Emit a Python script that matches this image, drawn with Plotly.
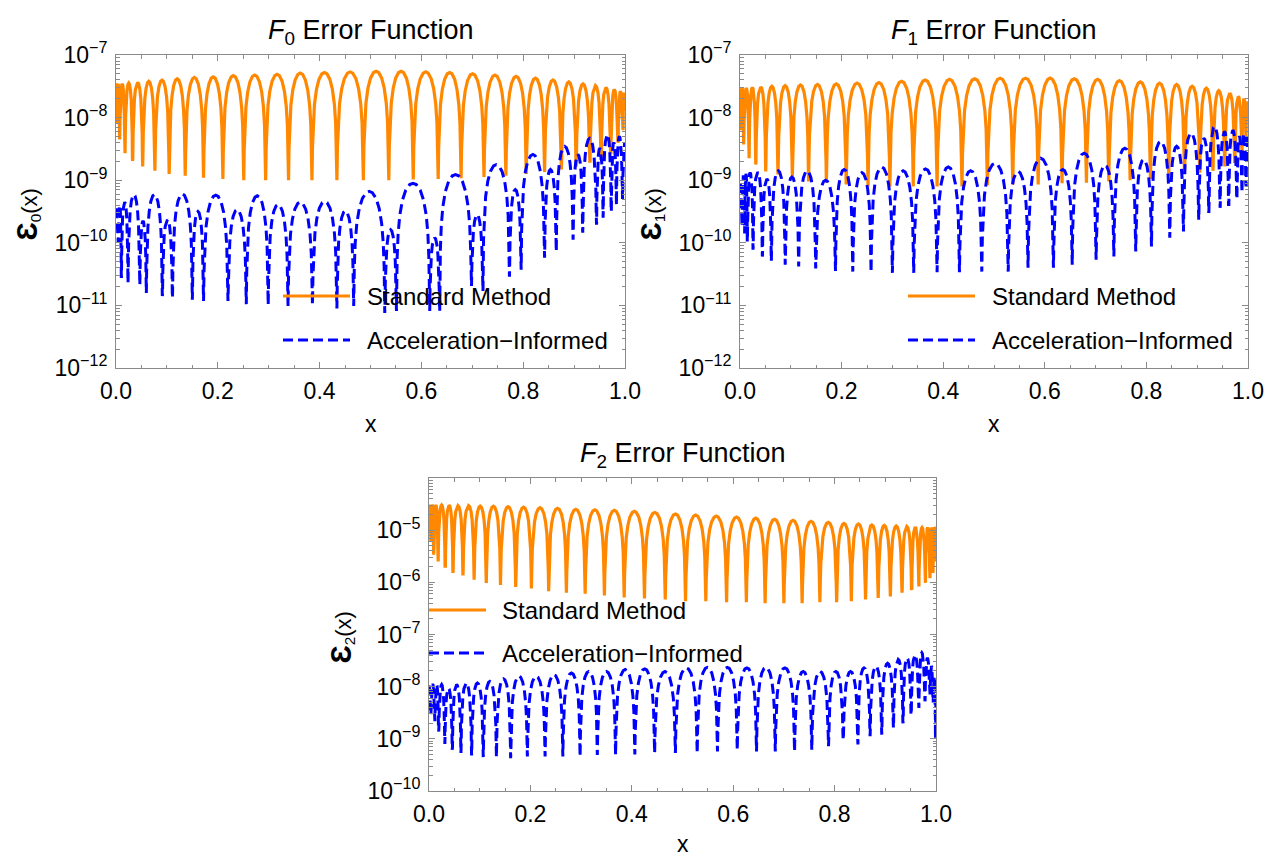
import plotly.graph_objects as go

# ---------------- data: log10 of the error ----------------
# F0 panel
F0_STD_TROUGH_X = [0.0012, 0.007, 0.0175, 0.0326, 0.0524, 0.0764, 0.1044, 0.136, 0.172, 0.210,
                   0.251, 0.294, 0.339, 0.385, 0.434, 0.486, 0.536, 0.584, 0.633, 0.678,
                   0.723, 0.766, 0.806, 0.842, 0.875, 0.904, 0.931, 0.953, 0.972, 0.986,
                   0.996, 0.9993]
F0_STD_TROUGH_LOG = [-8.1, -8.35, -8.57, -8.69, -8.78, -8.85, -8.9, -8.93, -8.96, -8.98,
                     -9.0, -9.0, -9.0, -9.0, -9.0, -9.0, -9.0, -8.99, -8.98, -8.97,
                     -8.95, -8.93, -8.9, -8.87, -8.83, -8.78, -8.72, -8.65, -8.55, -8.4,
                     -8.2, -7.9]
F0_STD_PEAK_LOG = [-7.45, -7.46, -7.46, -7.45, -7.44, -7.42, -7.40, -7.38, -7.36, -7.35,
                   -7.33, -7.32, -7.31, -7.29, -7.28, -7.27, -7.26, -7.26, -7.27, -7.28,
                   -7.30, -7.32, -7.34, -7.37, -7.40, -7.43, -7.46, -7.49, -7.52, -7.55,
                   -7.58, -7.6, -7.6]

F0_ACC_TROUGH_X = [0.004, 0.0105, 0.0236, 0.0466, 0.0596, 0.091, 0.111, 0.150, 0.172, 0.220,
                   0.256, 0.299, 0.338, 0.386, 0.434, 0.467, 0.528, 0.551, 0.616, 0.636,
                   0.698, 0.721, 0.773, 0.796, 0.842, 0.865, 0.898, 0.917, 0.944, 0.957,
                   0.973, 0.983, 0.995]
F0_ACC_TROUGH_LOG = [-10.0, -10.54, -10.64, -10.67, -10.80, -10.85, -10.88, -10.91, -10.93, -10.93,
                     -10.98, -10.99, -11.01, -10.99, -11.05, -11.01, -11.12, -11.09, -11.09, -11.09,
                     -10.69, -10.77, -10.54, -10.43, -10.24, -10.14, -9.95, -9.84, -9.71, -9.60,
                     -9.50, -9.4, -9.3]
F0_ACC_PEAK_LOG = [-9.45, -9.4, -9.35, -9.23, -9.65, -9.23, -9.63, -9.22, -9.50, -9.24,
                   -9.47, -9.25, -9.39, -9.35, -9.34, -9.49, -9.18, -9.79, -9.05, -9.92,
                   -8.91, -9.55, -8.75, -9.15, -8.59, -8.83, -8.46, -8.59, -8.33, -8.49,
                   -8.27, -8.4, -8.3, -8.4]

# F1 panel
F1_STD_TROUGH_X = [0.0012, 0.007, 0.0177, 0.031, 0.0506, 0.0748, 0.103, 0.135, 0.170, 0.209,
                   0.252, 0.295, 0.341, 0.388, 0.437, 0.487, 0.537, 0.587, 0.634, 0.682,
                   0.726, 0.768, 0.808, 0.844, 0.875, 0.905, 0.931, 0.954, 0.974, 0.988,
                   0.996, 0.9993]
F1_STD_TROUGH_LOG = [-8.2, -8.43, -8.65, -8.75, -8.86, -8.91, -8.94, -9.02, -9.04, -9.07,
                     -9.10, -9.10, -9.10, -9.10, -9.10, -9.08, -9.07, -9.07, -9.05, -9.04,
                     -9.02, -9.0, -8.98, -8.93, -8.9, -8.88, -8.85, -8.78, -8.7, -8.55,
                     -8.35, -8.0]
F1_STD_PEAK_LOG = [-7.53, -7.53, -7.53, -7.52, -7.51, -7.50, -7.49, -7.48, -7.47, -7.46,
                   -7.45, -7.44, -7.42, -7.40, -7.39, -7.38, -7.37, -7.37, -7.37, -7.38,
                   -7.39, -7.41, -7.43, -7.45, -7.47, -7.50, -7.53, -7.57, -7.61, -7.66,
                   -7.70, -7.74, -7.74]

F1_ACC_TROUGH_X = [0.004, 0.009, 0.0144, 0.0256, 0.044, 0.0617, 0.089, 0.1155, 0.149, 0.188,
                   0.222, 0.258, 0.300, 0.342, 0.388, 0.432, 0.476, 0.528, 0.567, 0.617,
                   0.654, 0.701, 0.736, 0.779, 0.810, 0.846, 0.873, 0.903, 0.923, 0.945,
                   0.962, 0.978, 0.988, 0.996]
F1_ACC_TROUGH_LOG = [-9.74, -9.85, -9.98, -10.11, -10.22, -10.29, -10.35, -10.38, -10.41, -10.45,
                     -10.46, -10.47, -10.48, -10.48, -10.47, -10.47, -10.46, -10.46, -10.40, -10.40,
                     -10.35, -10.27, -10.22, -10.14, -10.06, -9.92, -9.82, -9.63, -9.50, -9.44,
                     -9.39, -9.3, -9.2, -9.1]
F1_ACC_PEAK_LOG = [-9.05, -8.92, -8.9, -8.88, -8.87, -8.98, -8.85, -8.95, -8.85, -9.0,
                   -8.83, -8.88, -8.79, -8.85, -8.82, -8.79, -8.85, -8.73, -8.86, -8.65,
                   -8.83, -8.57, -8.76, -8.49, -8.67, -8.38, -8.46, -8.25, -8.33, -8.14,
                   -8.22, -8.2, -8.3, -8.25, -8.3]

# F2 panel
F2_STD_TROUGH_X = [0.0004, 0.0034, 0.0093, 0.0178, 0.032, 0.0473, 0.067, 0.089, 0.113, 0.141,
                   0.171, 0.202, 0.236, 0.271, 0.308, 0.346, 0.385, 0.425, 0.466, 0.506,
                   0.546, 0.587, 0.626, 0.663, 0.700, 0.736, 0.771, 0.804, 0.833, 0.861,
                   0.886, 0.910, 0.933, 0.952, 0.966, 0.979, 0.988, 0.994, 0.999]
F2_STD_TROUGH_LOG = [-5.0, -5.21, -5.47, -5.60, -5.69, -5.82, -5.87, -5.95, -6.01, -6.05,
                     -6.09, -6.12, -6.17, -6.20, -6.22, -6.25, -6.29, -6.31, -6.33, -6.36,
                     -6.36, -6.38, -6.38, -6.40, -6.40, -6.40, -6.38, -6.38, -6.36, -6.33,
                     -6.30, -6.27, -6.20, -6.14, -6.08, -6.01, -5.92, -5.82, -5.6]
F2_STD_PEAK_LOG = [-4.51, -4.51, -4.51, -4.52, -4.52, -4.52, -4.53, -4.53, -4.54, -4.54,
                   -4.55, -4.56, -4.57, -4.58, -4.60, -4.61, -4.62, -4.64, -4.66, -4.69,
                   -4.71, -4.73, -4.75, -4.77, -4.79, -4.81, -4.83, -4.85, -4.87, -4.88,
                   -4.90, -4.91, -4.92, -4.93, -4.94, -4.95, -4.95, -4.95, -4.94, -4.93]

F2_ACC_TROUGH_X = [0.0033, 0.0112, 0.019, 0.031, 0.046, 0.063, 0.084, 0.107, 0.133, 0.161,
                   0.194, 0.229, 0.264, 0.298, 0.332, 0.368, 0.406, 0.445, 0.486, 0.529,
                   0.569, 0.608, 0.646, 0.683, 0.721, 0.755, 0.788, 0.817, 0.846, 0.870,
                   0.893, 0.916, 0.935, 0.951, 0.966, 0.978, 0.988, 0.994, 0.999]
F2_ACC_TROUGH_LOG = [-8.54, -8.66, -8.86, -9.10, -9.21, -9.27, -9.32, -9.35, -9.35, -9.37,
                     -9.34, -9.34, -9.34, -9.34, -9.31, -9.31, -9.30, -9.27, -9.27, -9.27,
                     -9.24, -9.21, -9.24, -9.24, -9.24, -9.21, -9.14, -9.02, -9.11, -8.95,
                     -8.92, -8.79, -8.70, -8.54, -8.41, -8.28, -8.15, -8.3, -9.0]
F2_ACC_PEAK_LOG = [-7.98, -7.95, -7.96, -7.96, -8.03, -7.96, -7.93, -7.93, -7.90, -7.85,
                   -7.80, -7.80, -7.77, -7.74, -7.71, -7.71, -7.67, -7.66, -7.71, -7.64,
                   -7.63, -7.63, -7.64, -7.63, -7.64, -7.71, -7.71, -7.71, -7.71, -7.64,
                   -7.61, -7.55, -7.48, -7.45, -7.39, -7.35, -7.45, -7.6, -7.8, -8.0]

X_TICKS = [0.0, 0.2, 0.4, 0.6, 0.8, 1.0]
X_TICK_TEXT = ["0.0", "0.2", "0.4", "0.6", "0.8", "1.0"]
X_MINOR = [0.05, 0.1, 0.15, 0.25, 0.3, 0.35, 0.45, 0.5, 0.55, 0.65, 0.7, 0.75, 0.85, 0.9, 0.95]
TOP_DECADES = [-12, -11, -10, -9, -8, -7]
BOTTOM_DECADES = [-10, -9, -8, -7, -6, -5]

TITLES = ["<i>F</i><sub>0</sub> Error Function", "<i>F</i><sub>1</sub> Error Function",
          "<i>F</i><sub>2</sub> Error Function"]
Y_LABELS = ["0", "1", "2"]
LEGEND_NAMES = ["Standard Method", "Acceleration\u2212Informed"]

# ---------------- styling ----------------
ORANGE = "#FF8800"
BLUE = "#0000FF"
FRAME = "#8a8a8a"
FONT = "Liberation Sans, Arial, sans-serif"
W, H = 1278, 856

# glyph of one oscillation lobe (relative position inside lobe, drop in decades)
ARCH_T = [0.02, 0.05, 0.1, 0.18, 0.28, 0.4, 0.5, 0.6, 0.72, 0.82, 0.9, 0.95, 0.98]
ARCH_DROP = [-1.2, -0.81, -0.51, -0.27, -0.11, -0.02, 0.0, -0.02, -0.11, -0.27, -0.51, -0.81, -1.2]


def build_curve(trough_x, trough_log, peak_log):
    edges = [0.0] + list(trough_x) + [1.0]
    n = len(edges) - 1
    xs, ys = [], []
    for i in range(n):
        a, b = edges[i], edges[i + 1]
        p = peak_log[i]
        left_floor = trough_log[i - 1] if i > 0 else None
        right_floor = trough_log[i] if i < n - 1 else None
        if i == 0:
            xs.append(0.0)
            ys.append(p)
        else:
            xs.append(a)
            ys.append(left_floor)
        for t, d in zip(ARCH_T, ARCH_DROP):
            if i == 0:
                if t <= 0.5:
                    continue
                x = a + (b - a) * (t - 0.5) / 0.5
            elif i == n - 1:
                if t >= 0.5:
                    continue
                x = a + (b - a) * t / 0.5
            else:
                x = a + (b - a) * t
            floor = left_floor if t < 0.5 else right_floor
            v = p + d
            if floor is not None:
                v = max(v, floor)
            xs.append(x)
            ys.append(v)
        if i == n - 1:
            xs.append(1.0)
            ys.append(p)
    return xs, [10 ** v for v in ys]


def PX(v):
    return v / W


def PY(v):
    return 1 - v / H


# panel boxes in pixels: left, top, right, bottom
BOXES = [(108, 47, 617, 360), (732, 47, 1240, 360), (421, 470, 928, 783)]
LEGEND_POS = [(275, 342, 357, 288, 332), (900, 967, 982, 288, 332), (421, 478, 492, 602, 645)]
XLABEL_OFFSET = [56, 56, 53]

SERIES = [
    (F0_STD_TROUGH_X, F0_STD_TROUGH_LOG, F0_STD_PEAK_LOG, F0_ACC_TROUGH_X, F0_ACC_TROUGH_LOG, F0_ACC_PEAK_LOG),
    (F1_STD_TROUGH_X, F1_STD_TROUGH_LOG, F1_STD_PEAK_LOG, F1_ACC_TROUGH_X, F1_ACC_TROUGH_LOG, F1_ACC_PEAK_LOG),
    (F2_STD_TROUGH_X, F2_STD_TROUGH_LOG, F2_STD_PEAK_LOG, F2_ACC_TROUGH_X, F2_ACC_TROUGH_LOG, F2_ACC_PEAK_LOG),
]

fig = go.Figure()
annotations = []
shapes = []
layout_axes = {}

for k in range(3):
    sx, sy = ("", "") if k == 0 else (str(k + 1), str(k + 1))
    xref, yref = "x" + sx, "y" + sy
    stx, stl, stp, acx, acl, acp = SERIES[k]
    x1, y1 = build_curve(stx, stl, stp)
    x2, y2 = build_curve(acx, acl, acp)
    fig.add_trace(go.Scatter(x=x1, y=y1, mode="lines", name=LEGEND_NAMES[0],
                             line=dict(color=ORANGE, width=3.2), xaxis=xref, yaxis=yref,
                             showlegend=False))
    fig.add_trace(go.Scatter(x=x2, y=y2, mode="lines", name=LEGEND_NAMES[1],
                             line=dict(color=BLUE, width=3, dash="10px,5px"), xaxis=xref, yaxis=yref,
                             showlegend=False))

    l, t, r, b = BOXES[k]
    decades = TOP_DECADES if k < 2 else BOTTOM_DECADES
    lo = decades[0]
    hi = decades[-1] if k < 2 else decades[-1] + 1
    minor_vals = [m * 10.0 ** e for e in range(lo, hi) for m in range(2, 10)]
    common = dict(showline=True, linecolor=FRAME, linewidth=1, mirror="ticks", automargin=False,
                  ticks="inside", tickcolor=FRAME, tickwidth=1, showgrid=False, zeroline=False,
                  tickfont=dict(family=FONT, size=23, color="black"))
    layout_axes["xaxis" + sx] = dict(
        common, domain=[PX(l), PX(r)], range=[0, 1], anchor=yref,
        tickmode="array", tickvals=X_TICKS, ticktext=X_TICK_TEXT, ticklen=6,
        ticklabelstandoff=2,
        minor=dict(tickmode="array", tickvals=X_MINOR, ticks="inside", ticklen=3.5,
                   tickcolor=FRAME, tickwidth=1, showgrid=False))
    layout_axes["yaxis" + sy] = dict(
        common, domain=[PY(b), PY(t)], type="log", range=[lo, hi], anchor=xref,
        tickmode="array", tickvals=[10.0 ** e for e in decades],
        ticktext=["10<sup>\u2212%d</sup>" % (-e) for e in decades], ticklen=6,
        ticklabelstandoff=3,
        minor=dict(tickmode="array", tickvals=minor_vals, ticks="inside", ticklen=3.5,
                   tickcolor=FRAME, tickwidth=1, showgrid=False))

    cx = (l + r) / 2
    annotations.append(dict(text=TITLES[k], x=PX(cx), y=PY(t - 23), xref="paper", yref="paper",
                            showarrow=False, xanchor="center", yanchor="middle",
                            font=dict(family=FONT, size=27, color="black")))
    annotations.append(dict(text="x", x=PX(cx), y=PY(b + XLABEL_OFFSET[k]), xref="paper", yref="paper",
                            showarrow=False, xanchor="center", yanchor="middle",
                            font=dict(family=FONT, size=23, color="black")))
    annotations.append(dict(text="<b><span style='font-size:29px'>\u0190</span></b><sub>%s</sub>(x)" % Y_LABELS[k],
                            x=PX(l - 88), y=PY((t + b) / 2 + 3), xref="paper", yref="paper",
                            showarrow=False, xanchor="center", yanchor="middle", textangle=-90,
                            font=dict(family=FONT, size=22, color="black")))

    lx0, lx1, tx, ly1, ly2 = LEGEND_POS[k]
    shapes.append(dict(type="line", xref="paper", yref="paper", x0=PX(lx0), x1=PX(lx1),
                       y0=PY(ly1), y1=PY(ly1), line=dict(color=ORANGE, width=3.2)))
    shapes.append(dict(type="line", xref="paper", yref="paper", x0=PX(lx0), x1=PX(lx1),
                       y0=PY(ly2), y1=PY(ly2), line=dict(color=BLUE, width=3, dash="10px,5px")))
    for name, yy in zip(LEGEND_NAMES, (ly1, ly2)):
        annotations.append(dict(text=name, x=PX(tx), y=PY(yy), xref="paper", yref="paper",
                                showarrow=False, xanchor="left", yanchor="middle",
                                font=dict(family=FONT, size=24, color="black")))

fig.update_layout(template="none", width=W, height=H, autosize=False,
                  margin=dict(l=0, r=0, t=0, b=0, pad=0),
                  paper_bgcolor="white", plot_bgcolor="white", showlegend=False,
                  font=dict(family=FONT, color="black"),
                  annotations=annotations, shapes=shapes, **layout_axes)

fig.write_html("out.html")
